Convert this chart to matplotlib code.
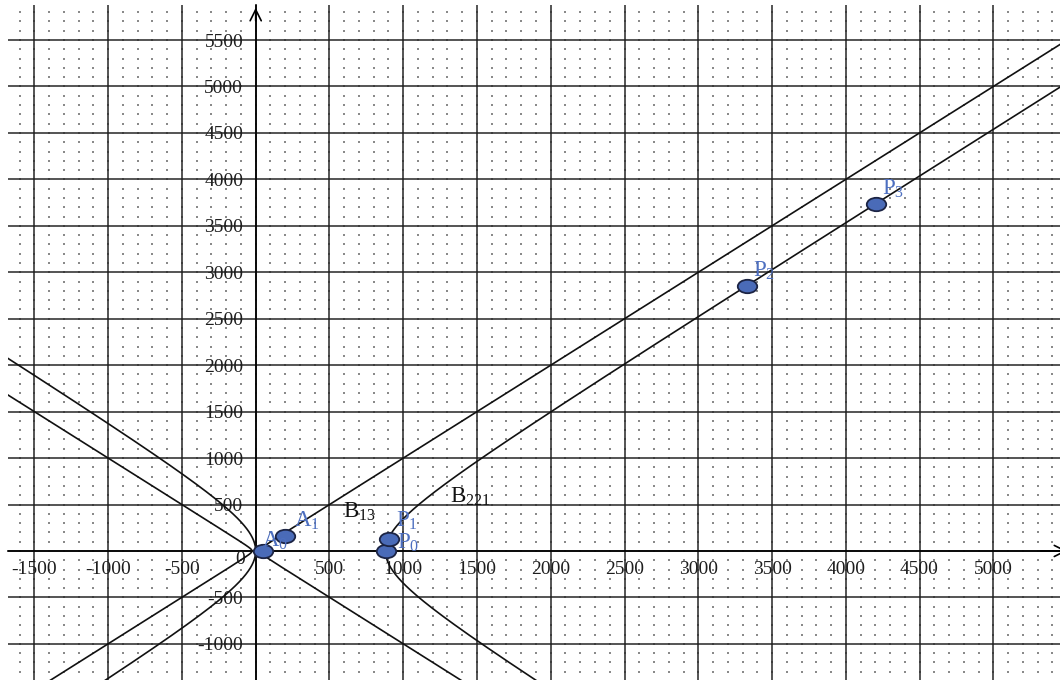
import numpy as np
import matplotlib.pyplot as plt
from matplotlib.path import Path
from matplotlib.transforms import Affine2D
from matplotlib.ticker import MultipleLocator

plt.rcParams['font.family'] = ['Liberation Serif', 'DejaVu Serif']
plt.rcParams['mathtext.fontset'] = 'custom'
plt.rcParams['mathtext.rm'] = 'Liberation Serif'
plt.rcParams['axes.unicode_minus'] = False

# hyperbolas (x - h)^2 / a^2 - y^2 / b^2 = 1
curve_names = ['B_{13}', 'B_{221}']
curve_h = [0, 440]
curve_a = [25, 440]
curve_b = [25, 440]
curve_label_x = [590, 1315]
curve_label_y = [355, 517]

# points
point_names = ['A_0', 'A_1', 'P_0', 'P_1', 'P_2', 'P_3']
point_x = [47, 196, 884, 905, 3327, 4207]
point_y = [0, 165, 0, 125, 2850, 3740]
label_x = [41, 258, 956, 949, 3369, 4243]
label_y = [43, 258, 20, 262, 2949, 3832]

xticks = [-1500, -1000, -500, 500, 1000, 1500, 2000, 2500, 3000, 3500, 4000, 4500, 5000]
yticks = [-1000, -500, 500, 1000, 1500, 2000, 2500, 3000, 3500, 4000, 4500, 5000, 5500]

xmin, xmax = -1679, 5452
ymin, ymax = -1389, 5877

fig = plt.figure(figsize=(10.6, 6.8), dpi=100)
ax = fig.add_axes([8 / 1060, 0, 1052 / 1060, 675 / 680])
ax.set_xlim(xmin, xmax)
ax.set_ylim(ymin, ymax)

# dotted lattice
gx, gy = np.meshgrid(np.arange(-1600, 5500, 100), np.arange(-1300, 5900, 100))
ax.scatter(gx.ravel(), gy.ravel(), s=0.8, marker='s', color='#8a8a8a', linewidths=0, zorder=1)

# major grid
ax.xaxis.set_major_locator(MultipleLocator(500))
ax.yaxis.set_major_locator(MultipleLocator(500))

# axes through origin
for side in ['top', 'right']:
    ax.spines[side].set_visible(False)
ax.spines['left'].set_position(('data', 0))
ax.spines['bottom'].set_position(('data', 0))
ax.spines['left'].set_linewidth(1.2)
ax.spines['bottom'].set_linewidth(1.2)
ax.tick_params(length=0, labelsize=14, labelcolor='#1e1e1e')
ax.tick_params(axis='y', pad=9)
ax.tick_params(axis='x', pad=7)
ax.set_xticks(xticks)
ax.set_xticklabels([str(v) for v in xticks])
ax.set_yticks(yticks)
ax.set_yticklabels([str(v) for v in yticks])
ax.grid(True, color='#262626', lw=1.1, zorder=2)
ax.axhline(0, color='#262626', lw=1.1, zorder=2)
ax.axvline(0, color='#262626', lw=1.1, zorder=2)
ax.text(-108, -97, '0', fontsize=14, color='#1e1e1e', ha='center', va='center')

ax.annotate('', xy=(0, ymax), xytext=(0, ymax - 200),
            arrowprops=dict(arrowstyle='->', lw=1.2, color='black', mutation_scale=20),
            annotation_clip=False)
ax.annotate('', xy=(5520, 0), xytext=(5300, 0),
            arrowprops=dict(arrowstyle='->', lw=1.2, color='black', mutation_scale=20),
            annotation_clip=False)

# hyperbola branches
for h, a, b in zip(curve_h, curve_a, curve_b):
    tt = np.linspace(-np.arccosh(8000 / a), np.arccosh(8000 / a), 2000)
    ax.plot(h + a * np.cosh(tt), b * np.sinh(tt), color='#111111', lw=1.2, zorder=3)
    ax.plot(h - a * np.cosh(tt), b * np.sinh(tt), color='#111111', lw=1.2, zorder=3)

for name, lx, ly in zip(curve_names, curve_label_x, curve_label_y):
    ax.text(lx, ly, r'$\mathregular{%s}$' % name, fontsize=16.5, color='#111111', zorder=6)

# points
ell = Path.unit_circle().transformed(Affine2D().scale(1.45, 1.0))
ax.plot(point_x, point_y, linestyle='none', marker=ell, ms=14,
        mfc='#4a6bb8', mec='#1c2444', mew=1.3, zorder=5)
for name, lx, ly in zip(point_names, label_x, label_y):
    ax.text(lx, ly, r'$\mathregular{%s}$' % name, fontsize=16.5, color='#4d6fc0', zorder=6)

fig.savefig('out.png', dpi=100)
